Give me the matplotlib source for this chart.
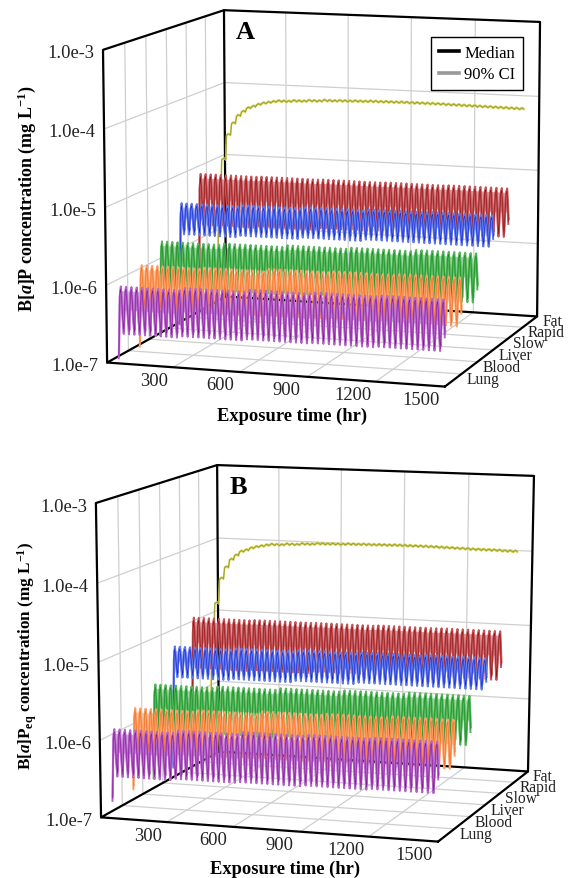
import numpy as np
import matplotlib
matplotlib.use('Agg')
import matplotlib.pyplot as plt
from matplotlib.lines import Line2D

plt.rcParams['font.family'] = ['Liberation Serif', 'DejaVu Serif']
plt.rcParams['mathtext.fontset'] = 'custom'
plt.rcParams['mathtext.rm'] = 'Liberation Serif'
plt.rcParams['mathtext.it'] = 'Liberation Serif:italic'
plt.rcParams['mathtext.bf'] = 'Liberation Serif:bold'
plt.rcParams['mathtext.bfit'] = 'Liberation Serif:italic:bold'

# Axis values
time_ticks = [300, 600, 900, 1200, 1500]
conc_ticks = [1.0e-3, 1.0e-4, 1.0e-5, 1.0e-6, 1.0e-7]
conc_labels = ['1.0e-3', '1.0e-4', '1.0e-5', '1.0e-6', '1.0e-7']
tissues = ['Lung', 'Blood', 'Liver', 'Slow', 'Rapid', 'Fat']
colors_ci = ['#b565c8', '#ff9f63', '#55b65a', '#5f78ea', '#c4555a']
colors_median = ['#85109a', '#ee6a1e', '#0a8a1a', '#1020d0', '#8c0a0a']
colors_tint = ['#cfa5dc', '#ffc9a5', '#9fd6a2', '#c0cbf5', '#dc9a9c']
fat_ci = '#cfcf50'
fat_median = '#85851a'

# Daily peak / trough levels, read per 12 cycle block, Lung to Rapid
peaks_a = [
    [0.76e-6, 0.82e-6, 0.88e-6, 0.92e-6, 0.95e-6],
    [1.05e-6, 1.10e-6, 1.20e-6, 1.25e-6, 1.30e-6],
    [1.60e-6, 1.68e-6, 1.78e-6, 1.86e-6, 1.95e-6],
    [3.90e-6, 4.10e-6, 4.30e-6, 4.45e-6, 4.55e-6],
    [7.40e-6, 7.50e-6, 7.60e-6, 7.70e-6, 7.80e-6],
]
troughs_a = [
    [2.1e-7, 2.2e-7, 2.3e-7, 2.35e-7, 2.4e-7],
    [3.2e-7, 3.3e-7, 3.4e-7, 3.5e-7, 3.5e-7],
    [4.2e-7, 4.5e-7, 4.8e-7, 5.0e-7, 5.1e-7],
    [1.7e-6, 1.8e-6, 1.9e-6, 2.0e-6, 2.0e-6],
    [1.7e-6, 1.8e-6, 1.9e-6, 1.95e-6, 2.0e-6],
]
peaks_b = [
    [1.10e-6, 1.19e-6, 1.28e-6, 1.33e-6, 1.38e-6],
    [1.52e-6, 1.60e-6, 1.74e-6, 1.81e-6, 1.89e-6],
    [2.32e-6, 2.44e-6, 2.58e-6, 2.70e-6, 2.83e-6],
    [5.66e-6, 5.95e-6, 6.24e-6, 6.45e-6, 6.60e-6],
    [10.7e-6, 10.9e-6, 11.0e-6, 11.2e-6, 11.3e-6],
]
troughs_b = [
    [3.05e-7, 3.2e-7, 3.3e-7, 3.4e-7, 3.5e-7],
    [4.6e-7, 4.8e-7, 4.9e-7, 5.1e-7, 5.1e-7],
    [6.1e-7, 6.5e-7, 7.0e-7, 7.25e-7, 7.4e-7],
    [2.5e-6, 2.6e-6, 2.75e-6, 2.9e-6, 2.9e-6],
    [2.5e-6, 2.6e-6, 2.75e-6, 2.8e-6, 2.9e-6],
]
first_level_a = 1.0e-7
first_level_b = 1.45e-7

# Fat: the first 12 daily cycles are read singly, then blocks of 3 cycles
fat_rise_a = [3.8e-6, 1.0e-5, 2.2e-5, 3.2e-5, 4.1e-5, 4.7e-5, 5.3e-5, 5.6e-5, 6.0e-5, 6.3e-5, 6.5e-5, 6.7e-5]
fat_plateau_a = [6.9e-5, 7.1e-5, 7.3e-5, 7.5e-5, 7.6e-5, 7.7e-5, 7.8e-5, 7.85e-5,
                 7.9e-5, 7.9e-5, 7.9e-5, 7.85e-5, 7.8e-5, 7.75e-5, 7.7e-5, 7.65e-5]
fat_rise_b = [5.5e-6, 1.45e-5, 3.2e-5, 4.6e-5, 5.9e-5, 6.8e-5, 7.7e-5, 8.1e-5, 8.7e-5, 9.1e-5, 9.4e-5, 9.7e-5]
fat_plateau_b = [10.0e-5, 10.3e-5, 10.6e-5, 10.9e-5, 11.0e-5, 11.2e-5, 11.3e-5, 11.4e-5,
                 11.5e-5, 11.5e-5, 11.5e-5, 11.4e-5, 11.3e-5, 11.2e-5, 11.2e-5, 11.1e-5]
fat_ripple = 0.955

# One daily cycle as seen in the picture, and the width of the 90% CI (decades)
cycle_period = 24.4
cycle_hours = [0, 4, 8, 12, 16, 20]
cycle_shape = [0.0, 0.5, 0.92, 1.0, 0.7, 0.3]
ci_width = 0.03
ci_hours = 0.8
tint_from = 0.5
n_block_cycles = 12
n_fat_block_cycles = 3

# Pixel position of the box corners: (time, depth, log10 conc) -> (x, y)
box_points = [(0, 0, -3), (0, 6, -3), (1500, 6, -3), (0, 0, -7), (0, 6, -7), (1500, 6, -7), (1500, 0, -7)]
corners_a = [(103, 51), (224, 11), (540, 23), (107, 363), (226, 298), (537, 317), (445, 388)]
corners_b = [(96, 504), (217, 466), (534, 477), (101, 818), (219, 753), (528, 772), (438, 843)]
tissue_depths = [0.55, 1.55, 2.55, 3.55, 4.55, 5.55]


def fit_camera(corners):
    '''Least squares projection matrix from the box corners.'''
    rows = []
    rhs = []
    for (t, d, z), (x, y) in zip(box_points, corners):
        rows.append([t, d, z, 1, 0, 0, 0, 0, -x * t, -x * d, -x * z])
        rows.append([0, 0, 0, 0, t, d, z, 1, -y * t, -y * d, -y * z])
        rhs += [x, y]
    p = np.linalg.lstsq(np.array(rows, float), np.array(rhs, float), rcond=None)[0]
    return np.append(p, 1.0).reshape(3, 4)


def project(camera, t, d, z):
    '''Map time, depth and log10 concentration to figure pixels.'''
    t, d, z = np.broadcast_arrays(np.asarray(t, float), np.asarray(d, float), np.asarray(z, float))
    w = camera[2, 0] * t + camera[2, 1] * d + camera[2, 2] * z + camera[2, 3]
    x = (camera[0, 0] * t + camera[0, 1] * d + camera[0, 2] * z + camera[0, 3]) / w
    y = (camera[1, 0] * t + camera[1, 1] * d + camera[1, 2] * z + camera[1, 3]) / w
    return x, y


def daily_trace(peaks, troughs, first_level):
    '''Build time and log10 level from per-cycle peaks and troughs.'''
    hours = []
    levels = []
    for k, (peak, trough) in enumerate(zip(peaks, troughs)):
        low = np.log10(first_level) if k == 0 else np.log10(trough)
        for h, s in zip(cycle_hours, cycle_shape):
            hours.append(k * cycle_period + h)
            if h > 12:
                low = np.log10(trough)
            levels.append(low + s * (np.log10(peak) - low))
    return np.array(hours), np.array(levels)


def draw_tint(ax, camera, peaks, troughs, depth, color):
    '''Shade the upper body of the teeth, where the lines run together.'''
    hours = np.arange(len(peaks)) * cycle_period + 12
    top = np.log10(peaks) - 0.03
    bottom = np.log10(troughs) + tint_from * (np.log10(peaks) - np.log10(troughs))
    x_top, y_top = project(camera, hours, depth, top)
    x_bottom, y_bottom = project(camera, hours[::-1], depth, bottom[::-1])
    ax.fill(np.concatenate([x_top, x_bottom]), np.concatenate([y_top, y_bottom]), color=color, lw=0)


def draw_series(ax, camera, hours, levels, depth, color_ci, color_median):
    '''Draw the CI limits and the median of one tissue.'''
    for sign in (-1, 1):
        x, y = project(camera, hours + sign * ci_hours, depth, levels + sign * ci_width)
        ax.plot(x, y, color=color_ci, lw=1.45, solid_joinstyle='round')
    x, y = project(camera, hours, depth, levels)
    ax.plot(x, y, color=color_median, lw=0.4, solid_joinstyle='round')


def draw_box(ax, camera):
    '''Draw the grid lines and the black frame of the 3D box.'''
    grid = {'color': '#cfcfcf', 'lw': 0.9}
    for t in time_ticks[:-1]:
        ax.plot(*project(camera, [t, t], [0, 6], -7), **grid)
        ax.plot(*project(camera, [t, t], 6, [-7, -3]), **grid)
    for d in range(1, 6):
        ax.plot(*project(camera, [0, 1500], d, -7), **grid)
        ax.plot(*project(camera, 0, [d, d], [-7, -3]), **grid)
    for c in conc_ticks[1:-1]:
        z = np.log10(c)
        ax.plot(*project(camera, 0, [0, 6], z), **grid)
        ax.plot(*project(camera, [0, 1500], 6, z), **grid)
    frame = {'color': 'black', 'lw': 1.6, 'solid_capstyle': 'round'}
    ax.plot(*project(camera, [0, 0, 0, 1500, 1500], [0, 0, 6, 6, 6], [-7, -3, -3, -3, -7]), **frame)
    ax.plot(*project(camera, 0, [6, 6], [-3, -7]), **frame)
    ax.plot(*project(camera, [1500, 0, 0, 1500, 1500], [0, 0, 6, 6, 0], -7), **frame)


def draw_labels(ax, camera, letter, ylabel, ylabel_size, ylabel_pos, xlabel_pos):
    '''Write tick labels, axis titles and the panel letter.'''
    for c, label in zip(conc_ticks, conc_labels):
        x, y = project(camera, 0, 0, np.log10(c))
        ax.text(x - 9, y + 3, label, ha='right', va='center', fontsize=13.3, color='#222222')
    for t in time_ticks:
        x, y = project(camera, t, 0, -7)
        ax.text(x - 17 - t / 220, y + 13, str(t), ha='center', va='center', fontsize=13.3, color='#222222')
    for i, tissue in enumerate(tissues):
        x, y = project(camera, 1500, i + 1, -7)
        ax.text(x + 5, y + 5, tissue, ha='left', va='center', fontsize=11.2, color='#222222')
    ax.text(ylabel_pos[0], ylabel_pos[1], ylabel, rotation=90, ha='center', va='center',
            fontsize=ylabel_size, fontweight='bold')
    ax.text(xlabel_pos[0], xlabel_pos[1], 'Exposure time (hr)', ha='center', va='center',
            fontsize=13.3, fontweight='bold')
    x, y = project(camera, 0, 6, -3)
    ax.text(x + 21, y + 21, letter, ha='center', va='center', fontsize=19, fontweight='bold')


def draw_panel(ax, corners, peaks, troughs, fat_levels, first_level):
    '''Draw the box and all the tissue traces of one panel.'''
    camera = fit_camera(corners)
    draw_box(ax, camera)

    # Back to front, so the nearer tissues hide the farther ones
    hours, levels = daily_trace(fat_levels, fat_levels * fat_ripple, first_level)
    for sign in (-1, 1):
        ax.plot(*project(camera, hours, tissue_depths[5], levels + sign * 0.008), color=fat_ci, lw=1.0)
    ax.plot(*project(camera, hours, tissue_depths[5], levels), color=fat_median, lw=0.4)
    for i in range(4, -1, -1):
        cycle_peaks = np.repeat(peaks[i], n_block_cycles)
        cycle_troughs = np.repeat(troughs[i], n_block_cycles)
        hours, levels = daily_trace(cycle_peaks, cycle_troughs, first_level)
        draw_tint(ax, camera, cycle_peaks, cycle_troughs, tissue_depths[i], colors_tint[i])
        draw_series(ax, camera, hours, levels, tissue_depths[i], colors_ci[i], colors_median[i])
    return camera


def main():
    '''Build the figure with both panels and save it.'''
    fig = plt.figure(figsize=(5.69, 8.79), dpi=100)
    ax = fig.add_axes([0, 0, 1, 1])
    ax.set_xlim(0, 569)
    ax.set_ylim(879, 0)
    ax.axis('off')

    fat_a = np.concatenate([fat_rise_a, np.repeat(fat_plateau_a, n_fat_block_cycles)])
    fat_b = np.concatenate([fat_rise_b, np.repeat(fat_plateau_b, n_fat_block_cycles)])

    camera = draw_panel(ax, corners_a, peaks_a, troughs_a, fat_a, first_level_a)
    draw_labels(ax, camera, 'A', r'B[$\mathbfit{a}$]P concentration (mg L$^{\mathbf{-1}}$)',
                13, (27, 199), (292, 416))
    camera = draw_panel(ax, corners_b, peaks_b, troughs_b, fat_b, first_level_b)
    draw_labels(ax, camera, 'B', r'B[$\mathbfit{a}$]P$_{\mathbf{eq}}$ concentration (mg L$^{\mathbf{-1}}$)',
                12.3, (27, 656), (285, 869))

    handles = [Line2D([], [], color='black', lw=2.6), Line2D([], [], color='#999999', lw=2.6)]
    legend = ax.legend(handles, ['Median', '90% CI'], loc='upper left', bbox_to_anchor=(431 / 569, 1 - 38 / 879),
                       borderaxespad=0, fancybox=False, framealpha=1, edgecolor='black', fontsize=12,
                       handlelength=1.2, handletextpad=0.35, borderpad=0.45, labelspacing=0.35)
    legend.get_frame().set_linewidth(1.0)

    fig.savefig('out.png', dpi=100)


if __name__ == '__main__':
    main()
